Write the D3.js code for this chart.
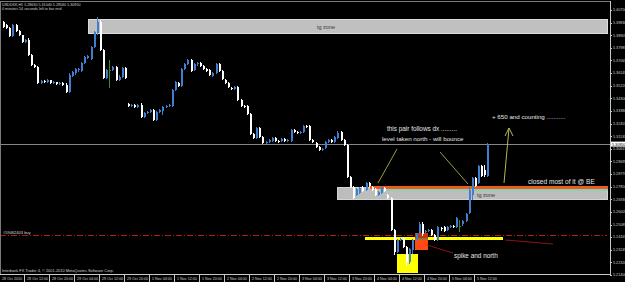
<!DOCTYPE html>
<html>
<head>
<meta charset="utf-8">
<script src="https://cdn.jsdelivr.net/npm/d3@7"></script>
<style>
  html, body { margin: 0; padding: 0; background: #000; overflow: hidden; }
  svg { display: block; }
  text { font-family: "Liberation Sans", Arial, sans-serif; }
</style>
</head>
<body>
<svg id="chart" width="625" height="282"></svg>
<script>
// header of the MT4 window
const symbolLine = "USDDKK,H1  5.28630 5.31040 5.28560 5.30950";
const timerLine = "0 minutes 54 seconds left to bar end";
const copyright = "Interbank FX Trader 4, \u00a9 2001-2010 MetaQuotes Software Corp.";

// hourly candles, [open, high, low, close]
const candles = [
  [5.3987, 5.3995, 5.3944, 5.3951], [5.3965, 5.3973, 5.3936, 5.3944], [5.3944, 5.3951, 5.3878, 5.3885],
  [5.3885, 5.3973, 5.3878, 5.3965], [5.3965, 5.3973, 5.3914, 5.3922], [5.3922, 5.3929, 5.3885, 5.3892],
  [5.3892, 5.3892, 5.3834, 5.3841], [5.3841, 5.3863, 5.3834, 5.3856], [5.3856, 5.3871, 5.3739, 5.3746],
  [5.3746, 5.3754, 5.3666, 5.3673], [5.3673, 5.3681, 5.3652, 5.3659], [5.3659, 5.3666, 5.3535, 5.3542],
  [5.3542, 5.3564, 5.3535, 5.3557], [5.3557, 5.3564, 5.3542, 5.3549], [5.3549, 5.3571, 5.3542, 5.3564],
  [5.3564, 5.3564, 5.3535, 5.3542], [5.3542, 5.3557, 5.3535, 5.3549], [5.3549, 5.3549, 5.3527, 5.3535],
  [5.3535, 5.3549, 5.3527, 5.3542], [5.3542, 5.3549, 5.3520, 5.3527], [5.3527, 5.3542, 5.3469, 5.3476],
  [5.3476, 5.3615, 5.3469, 5.3600], [5.3593, 5.3630, 5.3586, 5.3622], [5.3615, 5.3652, 5.3600, 5.3644],
  [5.3637, 5.3652, 5.3622, 5.3644], [5.3630, 5.3695, 5.3622, 5.3688], [5.3688, 5.3739, 5.3681, 5.3732],
  [5.3725, 5.3746, 5.3717, 5.3739], [5.3717, 5.3812, 5.3710, 5.3805], [5.3805, 5.3922, 5.3798, 5.3914],
  [5.3907, 5.4024, 5.3892, 5.3987], [5.3987, 5.4002, 5.3776, 5.3783], [5.3783, 5.3790, 5.3571, 5.3579],
  [5.3579, 5.3644, 5.3571, 5.3637], [5.3637, 5.3710, 5.3506, 5.3637], [5.3637, 5.3666, 5.3630, 5.3659],
  [5.3659, 5.3666, 5.3557, 5.3564], [5.3564, 5.3600, 5.3557, 5.3586], [5.3586, 5.3659, 5.3579, 5.3652],
  [5.3652, 5.3659, 5.3571, 5.3579], [5.3389, 5.3396, 5.3367, 5.3374], [5.3374, 5.3389, 5.3367, 5.3381],
  [5.3381, 5.3389, 5.3360, 5.3367], [5.3367, 5.3389, 5.3360, 5.3381], [5.3381, 5.3396, 5.3287, 5.3294],
  [5.3294, 5.3330, 5.3287, 5.3323], [5.3323, 5.3338, 5.3316, 5.3330], [5.3330, 5.3352, 5.3323, 5.3345],
  [5.3345, 5.3352, 5.3265, 5.3272], [5.3272, 5.3338, 5.3265, 5.3330], [5.3330, 5.3352, 5.3323, 5.3345],
  [5.3338, 5.3374, 5.3308, 5.3367], [5.3367, 5.3381, 5.3360, 5.3374], [5.3374, 5.3389, 5.3367, 5.3381],
  [5.3374, 5.3498, 5.3367, 5.3491], [5.3491, 5.3557, 5.3484, 5.3549], [5.3542, 5.3549, 5.3513, 5.3520],
  [5.3520, 5.3652, 5.3513, 5.3644], [5.3644, 5.3688, 5.3637, 5.3681], [5.3681, 5.3717, 5.3673, 5.3710],
  [5.3710, 5.3717, 5.3622, 5.3630], [5.3637, 5.3688, 5.3630, 5.3681], [5.3681, 5.3695, 5.3666, 5.3688],
  [5.3688, 5.3695, 5.3659, 5.3666], [5.3666, 5.3673, 5.3637, 5.3644], [5.3644, 5.3652, 5.3622, 5.3630],
  [5.3637, 5.3644, 5.3593, 5.3600], [5.3593, 5.3622, 5.3586, 5.3615], [5.3615, 5.3688, 5.3608, 5.3681],
  [5.3681, 5.3688, 5.3622, 5.3630], [5.3630, 5.3637, 5.3564, 5.3571], [5.3564, 5.3571, 5.3535, 5.3542],
  [5.3542, 5.3549, 5.3506, 5.3513], [5.3506, 5.3513, 5.3491, 5.3498], [5.3498, 5.3520, 5.3491, 5.3513],
  [5.3513, 5.3520, 5.3411, 5.3418], [5.3418, 5.3425, 5.3367, 5.3374], [5.3374, 5.3381, 5.3360, 5.3367],
  [5.3374, 5.3381, 5.3308, 5.3316], [5.3316, 5.3323, 5.3162, 5.3170], [5.3170, 5.3177, 5.3133, 5.3141],
  [5.3141, 5.3221, 5.3133, 5.3214], [5.3214, 5.3221, 5.3141, 5.3148], [5.3148, 5.3155, 5.3097, 5.3104],
  [5.3104, 5.3119, 5.3097, 5.3111], [5.3111, 5.3133, 5.3104, 5.3126], [5.3119, 5.3148, 5.3111, 5.3141],
  [5.3141, 5.3148, 5.3111, 5.3119], [5.3119, 5.3126, 5.3104, 5.3111], [5.3119, 5.3141, 5.3111, 5.3133],
  [5.3133, 5.3141, 5.3111, 5.3119], [5.3119, 5.3133, 5.3111, 5.3126], [5.3119, 5.3206, 5.3111, 5.3199],
  [5.3199, 5.3206, 5.3177, 5.3184], [5.3184, 5.3192, 5.3170, 5.3177], [5.3177, 5.3192, 5.3170, 5.3184],
  [5.3184, 5.3235, 5.3177, 5.3228], [5.3228, 5.3235, 5.3214, 5.3221], [5.3228, 5.3235, 5.3119, 5.3126],
  [5.3126, 5.3133, 5.3104, 5.3111], [5.3104, 5.3111, 5.3068, 5.3075], [5.3075, 5.3082, 5.3046, 5.3053],
  [5.3053, 5.3068, 5.3046, 5.3060], [5.3068, 5.3119, 5.3060, 5.3111], [5.3111, 5.3133, 5.3104, 5.3126],
  [5.3126, 5.3133, 5.3104, 5.3111], [5.3111, 5.3155, 5.3104, 5.3148], [5.3141, 5.3192, 5.3133, 5.3177],
  [5.3184, 5.3192, 5.3119, 5.3126], [5.3126, 5.3133, 5.3082, 5.3089], [5.3089, 5.3097, 5.2849, 5.2856],
  [5.2856, 5.2863, 5.2776, 5.2783], [5.2783, 5.2790, 5.2695, 5.2703], [5.2724, 5.2776, 5.2717, 5.2768],
  [5.2739, 5.2783, 5.2732, 5.2776], [5.2776, 5.2790, 5.2746, 5.2754], [5.2761, 5.2819, 5.2754, 5.2812],
  [5.2812, 5.2819, 5.2783, 5.2790], [5.2783, 5.2790, 5.2754, 5.2761], [5.2768, 5.2776, 5.2717, 5.2724],
  [5.2724, 5.2754, 5.2717, 5.2746], [5.2739, 5.2790, 5.2732, 5.2783], [5.2776, 5.2783, 5.2746, 5.2754],
  [5.2724, 5.2732, 5.2695, 5.2703], [5.2703, 5.2710, 5.2462, 5.2469], [5.2469, 5.2476, 5.2286, 5.2308],
  [5.2308, 5.2403, 5.2301, 5.2396], [5.2396, 5.2411, 5.2389, 5.2403], [5.2411, 5.2418, 5.2338, 5.2345],
  [5.2345, 5.2352, 5.2199, 5.2235], [5.2235, 5.2338, 5.2221, 5.2330], [5.2323, 5.2403, 5.2294, 5.2396],
  [5.2396, 5.2447, 5.2389, 5.2440], [5.2447, 5.2527, 5.2440, 5.2513], [5.2513, 5.2527, 5.2425, 5.2440],
  [5.2454, 5.2469, 5.2447, 5.2462], [5.2462, 5.2476, 5.2454, 5.2469], [5.2469, 5.2476, 5.2425, 5.2432],
  [5.2432, 5.2440, 5.2389, 5.2396], [5.2396, 5.2498, 5.2389, 5.2491], [5.2484, 5.2491, 5.2462, 5.2476],
  [5.2491, 5.2498, 5.2454, 5.2462], [5.2469, 5.2498, 5.2462, 5.2491], [5.2491, 5.2505, 5.2484, 5.2498],
  [5.2498, 5.2505, 5.2484, 5.2491], [5.2491, 5.2564, 5.2484, 5.2557], [5.2498, 5.2542, 5.2454, 5.2498],
  [5.2513, 5.2542, 5.2498, 5.2535], [5.2535, 5.2593, 5.2527, 5.2586], [5.2593, 5.2783, 5.2586, 5.2761],
  [5.2724, 5.2856, 5.2688, 5.2849], [5.2849, 5.2856, 5.2783, 5.2790], [5.2812, 5.2943, 5.2805, 5.2936],
  [5.2936, 5.2943, 5.2856, 5.2863], [5.2907, 5.2943, 5.2856, 5.2870], [5.2863, 5.3104, 5.2856, 5.3095]
];

const priceLabels = [
  "5.40750", "5.39830", "5.38905", "5.37985", "5.37065", "5.36145", "5.35220", "5.34300",
  "5.33380", "5.32455", "5.31535", "5.30615", "5.29695", "5.28770", "5.27850", "5.26930",
  "5.26005", "5.25085", "5.24165", "5.23245", "5.22320", "5.21400"
];

const timeLabels = [
  "28 Oct 2010", "28 Oct 12:00", "28 Oct 20:00", "29 Oct 04:00", "29 Oct 12:00", "29 Oct 20:00",
  "1 Nov 04:00", "1 Nov 12:00", "1 Nov 20:00", "2 Nov 04:00", "2 Nov 12:00", "2 Nov 20:00",
  "3 Nov 04:00", "3 Nov 12:00", "3 Nov 20:00", "4 Nov 04:00", "4 Nov 12:00", "4 Nov 20:00",
  "5 Nov 04:00", "5 Nov 12:00"
];
const barsPerLabel = 8;

const bidPrice = 5.3095;
const orderPrice = 5.2432;
const orderLabel = "#59462403 buy";

// zones drawn by the trader: [start bar, top price, bottom price]
const upperZone = [27.5, 5.4009, 5.3900];
const lowerZone = [107, 5.2776, 5.2688];
const beLine = [117.5, 5.2779];
const beLine2 = [120.5, 5.2763];
const yellowBar = [115.8, 5.2408];
const yellowBox = [126, 5.2294, 5.2155];
const spikeBox = [131.8, 5.2447, 5.2323];

const W = 625, H = 282;
const plotRight = 610, plotBottom = 274;

const svg = d3.select("#chart");
svg.append("rect").attr("width", W).attr("height", H).attr("fill", "#000");

const x = d3.scaleLinear().domain([0, candles.length - 1]).range([3, 487.4]);
const y = d3.scaleLinear().domain([5.2143, 5.4075]).range([274.6, 10]);

const bg = svg.append("g").attr("shape-rendering", "crispEdges");

// upper tg zone
bg.append("rect")
  .attr("x", x(upperZone[0])).attr("y", y(upperZone[1]))
  .attr("width", 607 - x(upperZone[0])).attr("height", y(upperZone[2]) - y(upperZone[1]))
  .attr("fill", "#c0c0c0").attr("stroke", "#dcdcdc").attr("stroke-width", 1);

// lower tg zone
bg.append("rect")
  .attr("x", x(lowerZone[0])).attr("y", y(lowerZone[1]))
  .attr("width", 607 - x(lowerZone[0])).attr("height", y(lowerZone[2]) - y(lowerZone[1]))
  .attr("fill", "#bdbdbd").attr("stroke", "#d4d4d4").attr("stroke-width", 1);

bg.append("rect")
  .attr("x", x(beLine[0])).attr("y", y(beLine[1]) - 1.5)
  .attr("width", 608 - x(beLine[0])).attr("height", 3)
  .attr("fill", "#f05a1e");
bg.append("rect")
  .attr("x", x(beLine2[0])).attr("y", y(beLine2[1]) - 0.5)
  .attr("width", 608 - x(beLine2[0])).attr("height", 1.5)
  .attr("fill", "#86d2b4");

// bid line
bg.append("line")
  .attr("x1", 0).attr("x2", plotRight)
  .attr("y1", Math.round(y(bidPrice)) + 0.5).attr("y2", Math.round(y(bidPrice)) + 0.5)
  .attr("stroke", "#858585").attr("stroke-width", 1.5);

// order line
bg.append("line")
  .attr("x1", 0).attr("x2", plotRight - 3)
  .attr("y1", Math.round(y(orderPrice)) + 0.5).attr("y2", Math.round(y(orderPrice)) + 0.5)
  .attr("stroke", "#b01e1e").attr("stroke-width", 1)
  .attr("stroke-dasharray", "6,2,1,2");

// yellow level, yellow box and spike box
bg.append("rect")
  .attr("x", x(yellowBar[0])).attr("y", y(yellowBar[1]) - 1.5)
  .attr("width", 503 - x(yellowBar[0])).attr("height", 3)
  .attr("fill", "#ffff00");
bg.append("rect")
  .attr("x", x(yellowBox[0])).attr("y", y(yellowBox[1]))
  .attr("width", 21).attr("height", y(yellowBox[2]) - y(yellowBox[1]))
  .attr("fill", "#ffff00");
bg.append("rect")
  .attr("x", x(spikeBox[0])).attr("y", y(spikeBox[1]))
  .attr("width", 13).attr("height", y(spikeBox[2]) - y(spikeBox[1]))
  .attr("fill", "#ff4a14");
bg.append("rect")
  .attr("x", x(spikeBox[0])).attr("y", y(spikeBox[1]))
  .attr("width", 13).attr("height", 5)
  .attr("fill", "#c83214");
bg.append("rect")
  .attr("x", x(spikeBox[0])).attr("y", y(spikeBox[1]) + 5)
  .attr("width", 13).attr("height", 1.5)
  .attr("fill", "#3c9a3c");

// candles
const bull = "#3f7fd0", bear = "#ffffff", doji = "#2f8f2f";
const colorOf = d => d[3] > d[0] ? bull : (d[3] < d[0] ? bear : doji);

const bars = svg.append("g").attr("shape-rendering", "crispEdges")
  .selectAll("g")
  .data(candles)
  .join("g");

bars.append("line")
  .attr("x1", (d, i) => Math.round(x(i)) + 0.5)
  .attr("x2", (d, i) => Math.round(x(i)) + 0.5)
  .attr("y1", d => y(d[1]))
  .attr("y2", d => y(d[2]))
  .attr("stroke", colorOf)
  .attr("stroke-width", 1);

bars.append("rect")
  .attr("x", (d, i) => Math.round(x(i)))
  .attr("y", d => y(Math.max(d[0], d[3])))
  .attr("width", 2)
  .attr("height", d => Math.max(1, Math.abs(y(d[0]) - y(d[3]))))
  .attr("fill", colorOf);

// hand drawn trend lines
const notes = svg.append("g");
const segs = [
  [397, 149, 378, 183, "#9c9a42"],
  [440, 152, 468, 184, "#9c9a42"],
  [504, 183, 509, 128, "#b8b452"],
  [509, 128, 505, 136, "#b8b452"],
  [509, 128, 513, 136, "#b8b452"],
  [427, 245, 453, 253, "#8c1414"],
  [505, 240, 553, 244, "#8c1414"]
];
notes.selectAll("line")
  .data(segs)
  .join("line")
  .attr("x1", d => d[0]).attr("y1", d => d[1])
  .attr("x2", d => d[2]).attr("y2", d => d[3])
  .attr("stroke", d => d[4]).attr("stroke-width", 1);

const texts = [
  ["this pair follows dx .........", 387, 131, "#e6e6e6", 6.4],
  ["level taken north - will bounce", 382, 141, "#e6e6e6", 6.2],
  ["+ 650 and counting ...........", 492, 119, "#e6e6e6", 6.2],
  ["closed most of it @ BE", 528, 184, "#e6e6e6", 6.6],
  ["spike and north", 454, 258, "#e6e6e6", 6.4],
  ["tg zone", 317, 29, "#3a3a3a", 5.5],
  ["tg zone", 477, 197, "#3a3a3a", 5.5],
  [orderLabel, 3, 233.5, "#dcdcdc", 4]
];
notes.selectAll("text")
  .data(texts)
  .join("text")
  .attr("x", d => d[1]).attr("y", d => d[2])
  .attr("fill", d => d[3]).attr("font-size", d => d[4])
  .text(d => d[0]);

// frame and axes
const frame = svg.append("g").attr("shape-rendering", "crispEdges");
frame.append("line").attr("x1", 0.5).attr("x2", 0.5).attr("y1", 1).attr("y2", plotBottom)
  .attr("stroke", "#7a7a7a");
frame.append("line").attr("x1", 0).attr("x2", plotRight).attr("y1", 1.5).attr("y2", 1.5)
  .attr("stroke", "#7a7a7a");
frame.append("line").attr("x1", plotRight + 0.5).attr("x2", plotRight + 0.5).attr("y1", 1).attr("y2", plotBottom + 1)
  .attr("stroke", "#c8c8c8");
frame.append("line").attr("x1", 0).attr("x2", plotRight).attr("y1", plotBottom + 0.5).attr("y2", plotBottom + 0.5)
  .attr("stroke", "#c8c8c8");

const axisFont = 3.7;
const pAxis = svg.append("g");
pAxis.selectAll("line")
  .data(priceLabels)
  .join("line")
  .attr("x1", plotRight).attr("x2", plotRight + 2)
  .attr("y1", d => Math.round(y(+d)) + 0.5).attr("y2", d => Math.round(y(+d)) + 0.5)
  .attr("stroke", "#c8c8c8").attr("shape-rendering", "crispEdges");
pAxis.selectAll("text")
  .data(priceLabels)
  .join("text")
  .attr("x", plotRight + 3)
  .attr("y", d => y(+d) + 1.3)
  .attr("fill", "#d0d0d0").attr("font-size", axisFont)
  .text(d => d);

// bid price tag
const by = y(bidPrice);
svg.append("rect").attr("x", plotRight + 1).attr("y", by - 2.6).attr("width", 14).attr("height", 5)
  .attr("fill", "#ffffff");
svg.append("text").attr("x", plotRight + 2).attr("y", by + 1.3)
  .attr("fill", "#000").attr("font-size", axisFont).text(d3.format(".5f")(bidPrice));

const tAxis = svg.append("g");
tAxis.selectAll("line")
  .data(timeLabels)
  .join("line")
  .attr("x1", (d, i) => Math.round(x(i * barsPerLabel)) - 3.5)
  .attr("x2", (d, i) => Math.round(x(i * barsPerLabel)) - 3.5)
  .attr("y1", plotBottom).attr("y2", H)
  .attr("stroke", "#c8c8c8").attr("shape-rendering", "crispEdges");
tAxis.selectAll("text")
  .data(timeLabels)
  .join("text")
  .attr("x", (d, i) => x(i * barsPerLabel) - 1)
  .attr("y", 280)
  .attr("fill", "#d0d0d0").attr("font-size", axisFont)
  .text(d => d);

// window texts
svg.append("text").attr("x", 2).attr("y", 5.5).attr("fill", "#d0d0d0").attr("font-size", axisFont).text(symbolLine);
svg.append("text").attr("x", 2).attr("y", 10).attr("fill", "#d0d0d0").attr("font-size", axisFont).text(timerLine);
svg.append("text").attr("x", 2).attr("y", 271.5).attr("fill", "#d0d0d0").attr("font-size", 3.9).text(copyright);
</script>
</body>
</html>
